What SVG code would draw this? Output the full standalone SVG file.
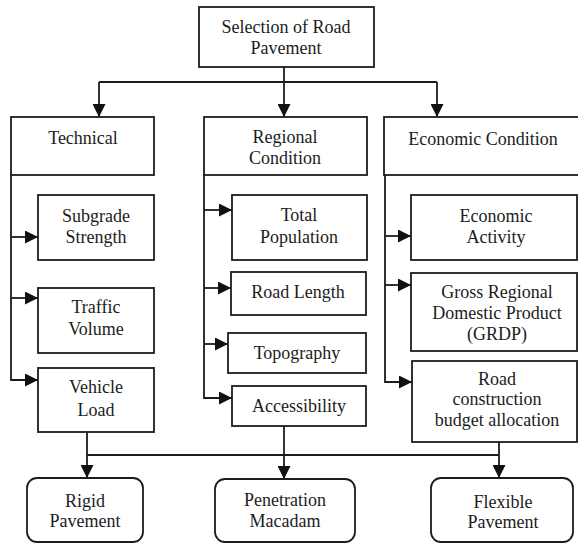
<svg xmlns="http://www.w3.org/2000/svg" width="578" height="544" viewBox="0 0 578 544">
<style>
.box{fill:#fff;stroke:#1c1c1c;stroke-width:1.8}
.con{fill:none;stroke:#1c1c1c;stroke-width:1.8}
text{font-family:"Liberation Serif","DejaVu Serif",serif;font-size:18px;fill:#1c1c1c;text-anchor:middle}
</style>
<defs>
<marker id="ah" markerUnits="userSpaceOnUse" markerWidth="13" markerHeight="13" refX="13" refY="6.5" orient="auto">
<path d="M0,0 L13,6.5 L0,13 Z" fill="#111"/>
</marker>
</defs>
<rect width="578" height="544" fill="#fff"/>
<g id="connectors">
<path class="con" d="M284,67 V117" marker-end="url(#ah)"/>
<path class="con" d="M99,82 H437"/>
<path class="con" d="M99,82 V117" marker-end="url(#ah)"/>
<path class="con" d="M437,82 V117" marker-end="url(#ah)"/>
<path class="con" d="M11,175 V380 H38" marker-end="url(#ah)"/>
<path class="con" d="M11,237 H38" marker-end="url(#ah)"/>
<path class="con" d="M11,298 H38" marker-end="url(#ah)"/>
<path class="con" d="M204,175 V398 H232" marker-end="url(#ah)"/>
<path class="con" d="M204,210 H232" marker-end="url(#ah)"/>
<path class="con" d="M204,288 H231" marker-end="url(#ah)"/>
<path class="con" d="M204,344 H228" marker-end="url(#ah)"/>
<path class="con" d="M385,175 V382 H412" marker-end="url(#ah)"/>
<path class="con" d="M385,236 H411" marker-end="url(#ah)"/>
<path class="con" d="M385,285 H411" marker-end="url(#ah)"/>
<path class="con" d="M87,432 V478" marker-end="url(#ah)"/>
<path class="con" d="M87,455 H499"/>
<path class="con" d="M284,426 V479" marker-end="url(#ah)"/>
<path class="con" d="M499,442 V478" marker-end="url(#ah)"/>
</g>
<g id="selection"><rect class="box" x="199" y="7" width="175" height="60"/><text x="286" y="33">Selection of Road</text><text x="286" y="54">Pavement</text></g>
<g id="technical"><rect class="box" x="11" y="117" width="143" height="58"/><text x="83" y="144">Technical</text></g>
<g id="regional"><rect class="box" x="204" y="117" width="163" height="58"/><text x="285" y="143">Regional</text><text x="285" y="164">Condition</text></g>
<g id="economic"><rect class="box" x="384" y="117" width="200" height="58"/><text x="483" y="145">Economic Condition</text></g>
<g id="subgrade"><rect class="box" x="38" y="195" width="116" height="65"/><text x="96" y="222">Subgrade</text><text x="96" y="243">Strength</text></g>
<g id="traffic"><rect class="box" x="38" y="288" width="116" height="65"/><text x="96" y="313">Traffic</text><text x="96" y="335">Volume</text></g>
<g id="vehicle"><rect class="box" x="38" y="368" width="116" height="64"/><text x="96" y="393">Vehicle</text><text x="96" y="416">Load</text></g>
<g id="population"><rect class="box" x="232" y="195" width="135" height="65"/><text x="299" y="221">Total</text><text x="299" y="243">Population</text></g>
<g id="roadlength"><rect class="box" x="231" y="272" width="135" height="43"/><text x="298" y="298">Road Length</text></g>
<g id="topography"><rect class="box" x="228" y="333" width="138" height="40"/><text x="297" y="359">Topography</text></g>
<g id="accessibility"><rect class="box" x="232" y="386" width="134" height="40"/><text x="299" y="412">Accessibility</text></g>
<g id="activity"><rect class="box" x="411" y="195" width="166" height="65"/><text x="496" y="222">Economic</text><text x="496" y="243">Activity</text></g>
<g id="grdp"><rect class="box" x="411" y="273" width="166" height="78"/><text x="497" y="298">Gross Regional</text><text x="497" y="319">Domestic Product</text><text x="497" y="340">(GRDP)</text></g>
<g id="budget"><rect class="box" x="412" y="361" width="165" height="81"/><text x="497" y="385">Road</text><text x="497" y="405">construction</text><text x="497" y="426">budget allocation</text></g>
<g id="rigid"><rect class="box" x="27" y="478" width="116" height="64" rx="10"/><text x="85" y="507">Rigid</text><text x="85" y="527">Pavement</text></g>
<g id="penetration"><rect class="box" x="215" y="479" width="140" height="63" rx="10"/><text x="285" y="506">Penetration</text><text x="285" y="527">Macadam</text></g>
<g id="flexible"><rect class="box" x="431" y="478" width="142" height="64" rx="10"/><text x="503" y="508">Flexible</text><text x="503" y="528">Pavement</text></g>
</svg>
